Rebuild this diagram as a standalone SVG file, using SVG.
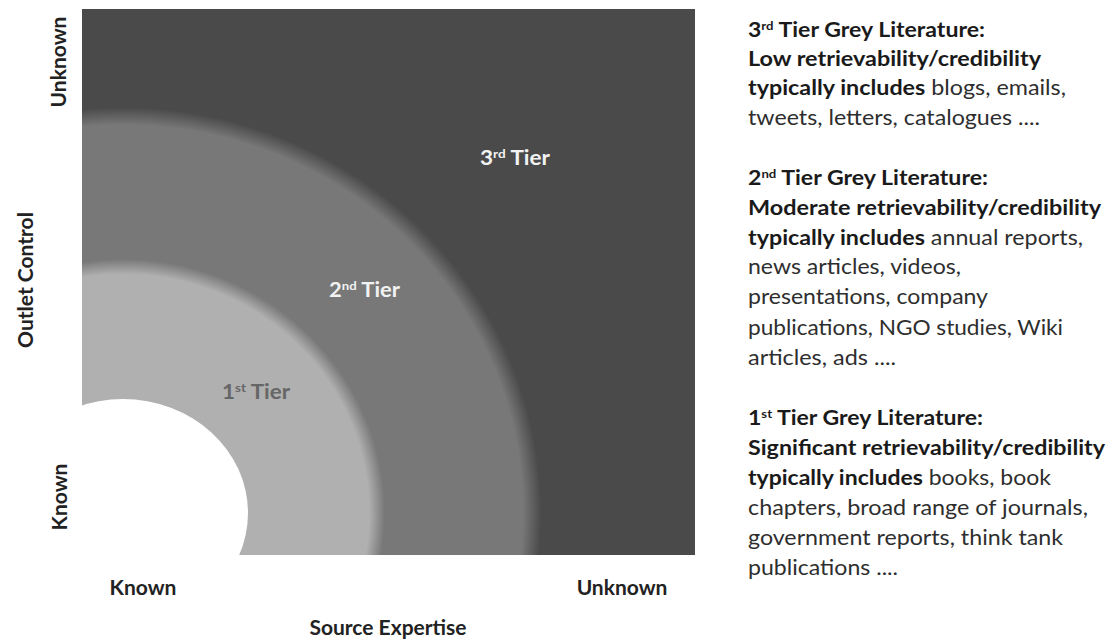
<svg xmlns="http://www.w3.org/2000/svg" width="1110" height="639" viewBox="0 0 1110 639">
<defs>
<radialGradient id="tiers" gradientUnits="userSpaceOnUse" cx="123" cy="513" r="425" gradientTransform="translate(123 513) scale(1 0.97) translate(-123 -513)">
<stop offset="0" stop-color="#b0b0b0"/>
<stop offset="0.579" stop-color="#b0b0b0"/>
<stop offset="0.616" stop-color="#787878"/>
<stop offset="0.941" stop-color="#787878"/>
<stop offset="0.984" stop-color="#4a4a4a"/>
<stop offset="1" stop-color="#4a4a4a"/>
</radialGradient>
<style>
.ax{font-family:Lato,"Open Sans","Liberation Sans",sans-serif;font-weight:bold;font-size:21px;fill:#222}
.tier{font-family:Lato,"Open Sans","Liberation Sans",sans-serif;font-weight:bold;font-size:20px}
.desc{font-family:Lato,"Open Sans","Liberation Sans",sans-serif;font-size:21px;fill:#2e2e2e}
.b{font-weight:bold;fill:#1a1a1a}
.sup{font-size:12px}
</style>
</defs>
<rect width="1110" height="639" fill="#ffffff"/>
<g id="quadrant">
<rect x="82" y="9" width="613" height="546" fill="url(#tiers)"/>
<ellipse cx="123" cy="513" rx="125" ry="114" fill="#ffffff"/>
</g>
<g id="tier-labels">
<text class="tier" x="480" y="165" fill="#f2f2f2" textLength="70" lengthAdjust="spacingAndGlyphs">3<tspan class="sup" baseline-shift="super">rd</tspan> Tier</text>
<text class="tier" x="329" y="297" fill="#f2f2f2" textLength="71" lengthAdjust="spacingAndGlyphs">2<tspan class="sup" baseline-shift="super">nd</tspan> Tier</text>
<text class="tier" x="222" y="399" fill="#666666" textLength="68" lengthAdjust="spacingAndGlyphs">1<tspan class="sup" baseline-shift="super">st</tspan> Tier</text>
</g>
<g id="axis-labels">
<text class="ax" transform="translate(66 62) rotate(-90)" text-anchor="middle">Unknown</text>
<text class="ax" transform="translate(33 280) rotate(-90)" text-anchor="middle">Outlet Control</text>
<text class="ax" transform="translate(67 497) rotate(-90)" text-anchor="middle">Known</text>
<text class="ax" x="143" y="595" text-anchor="middle">Known</text>
<text class="ax" x="622" y="595" text-anchor="middle">Unknown</text>
<text class="ax" x="388" y="635" text-anchor="middle">Source Expertise</text>
</g>
<g id="tier3-desc" class="desc">
<text x="748" y="37" class="b" textLength="237" lengthAdjust="spacingAndGlyphs">3<tspan class="sup" baseline-shift="super">rd</tspan> Tier Grey Literature:</text>
<text x="748" y="66" class="b" textLength="293" lengthAdjust="spacingAndGlyphs">Low retrievability/credibility</text>
<text x="748" y="95" textLength="318" lengthAdjust="spacingAndGlyphs"><tspan class="b">typically includes</tspan> blogs, emails,</text>
<text x="748" y="125" textLength="292" lengthAdjust="spacingAndGlyphs">tweets, letters, catalogues ....</text>
</g>
<g id="tier2-desc" class="desc">
<text x="748" y="185" class="b" textLength="240" lengthAdjust="spacingAndGlyphs">2<tspan class="sup" baseline-shift="super">nd</tspan> Tier Grey Literature:</text>
<text x="748" y="215" class="b" textLength="353" lengthAdjust="spacingAndGlyphs">Moderate retrievability/credibility</text>
<text x="748" y="245" textLength="335" lengthAdjust="spacingAndGlyphs"><tspan class="b">typically includes</tspan> annual reports,</text>
<text x="748" y="274" textLength="213" lengthAdjust="spacingAndGlyphs">news articles, videos,</text>
<text x="748" y="304" textLength="240" lengthAdjust="spacingAndGlyphs">presentations, company</text>
<text x="748" y="335" textLength="315" lengthAdjust="spacingAndGlyphs">publications, NGO studies, Wiki</text>
<text x="748" y="365" textLength="148" lengthAdjust="spacingAndGlyphs">articles, ads ....</text>
</g>
<g id="tier1-desc" class="desc">
<text x="748" y="425" class="b" textLength="235" lengthAdjust="spacingAndGlyphs">1<tspan class="sup" baseline-shift="super">st</tspan> Tier Grey Literature:</text>
<text x="748" y="455" class="b" textLength="357" lengthAdjust="spacingAndGlyphs">Significant retrievability/credibility</text>
<text x="748" y="485" textLength="303" lengthAdjust="spacingAndGlyphs"><tspan class="b">typically includes</tspan> books, book</text>
<text x="748" y="515" textLength="340" lengthAdjust="spacingAndGlyphs">chapters, broad range of journals,</text>
<text x="748" y="545" textLength="315" lengthAdjust="spacingAndGlyphs">government reports, think tank</text>
<text x="748" y="575" textLength="150" lengthAdjust="spacingAndGlyphs">publications ....</text>
</g>
</svg>
